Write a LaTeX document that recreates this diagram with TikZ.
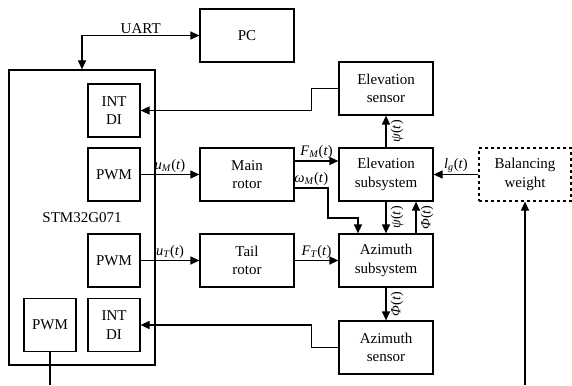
\documentclass[tikz,border=0pt]{standalone}
\usepackage{fontspec}
\setmainfont{Liberation Serif}
\usetikzlibrary{arrows.meta}
\newcommand{\sgl}[2]{\textit{#1}\textsubscript{\textit{#2}}(\textit{t})}
\newcommand{\sgn}[1]{\textit{#1}(\textit{t})}
\begin{document}
\begin{tikzpicture}[x=1pt,y=-1pt,
  every node/.style={font=\fontsize{15}{18.5}\selectfont},
  blk/.style={draw,line width=1.2pt,inner sep=0pt,align=center,minimum width=94pt,minimum height=53pt},
  sblk/.style={draw,line width=1.2pt,inner sep=0pt,align=center,minimum width=52pt,minimum height=53pt},
  conn/.style={line width=1.2pt},
  arr/.style={line width=1.2pt,-{Triangle[length=9pt,width=8pt]}},
  lbl/.style={inner sep=1.5pt,font=\fontsize{14.5}{16}\selectfont},
  rlbl/.style={inner sep=0pt,xshift=11pt,rotate=90,anchor=center,font=\fontsize{14}{16}\selectfont}]
\useasboundingbox (0,0) rectangle (572,385);
% main controller
\node[draw,line width=1.2pt,minimum width=146pt,minimum height=295pt,inner sep=0pt] (stm) at (82,217.5) {STM32G071};
\node[sblk] (intdi1) at (114,110.5) {INT\\DI};
\node[sblk] (pwm1) at (114,174.5) {PWM};
\node[sblk] (pwm2) at (114,260.5) {PWM};
\node[sblk] (intdi2) at (114,325) {INT\\DI};
\node[sblk] (pwm3) at (50,325) {PWM};
% blocks
\node[blk] (pc) at (247,35.5) {PC};
\node[blk] (main) at (247,174.5) {Main\\rotor};
\node[blk] (tail) at (247,260.5) {Tail\\rotor};
\node[blk] (elsens) at (386,88.5) {Elevation\\sensor};
\node[blk] (elsub) at (386,174.5) {Elevation\\subsystem};
\node[blk] (azsub) at (386,260.5) {Azimuth\\subsystem};
\node[blk] (azsens) at (386,347.5) {Azimuth\\sensor};
\node[blk,dashed,minimum width=92pt] (bal) at (525,174.5) {Balancing\\weight};
% free ends
\coordinate (pwmout) at (50,385);
\coordinate (balin) at (525,385);
% UART
\draw[conn,{Triangle[length=9pt,width=8pt]}-{Triangle[length=9pt,width=8pt]}] (stm.north) |- node[pos=0.75,above,lbl,font=\fontsize{15}{16}\selectfont] {UART} (pc.west);
% sensors to INT DI
\draw[arr] (elsens.west) -- ++(-27,0) |- (intdi1.east);
\draw[arr] (azsens.west) -- ++(-27,0) |- (intdi2.east);
% PWM to rotors
\draw[arr] (pwm1.east) -- node[above,lbl] {\sgl{u}{M}} (main.west);
\draw[arr] (pwm2.east) -- node[above,lbl] {\sgl{u}{T}} (tail.west);
% rotors to subsystems
\draw[arr] ([yshift=13.5pt]main.east) -- node[above,lbl] {\sgl{F}{M}} ([yshift=13.5pt]elsub.west);
\draw[arr] ([yshift=-13.5pt]main.east) -- node[above,lbl] {\sgl{ω}{M}} (328,188) -- (328,218) -| ([xshift=-28pt]azsub.north);
\draw[arr] (tail.east) -- node[above,lbl] {\sgl{F}{T}} (azsub.west);
% vertical signals
\draw[arr] (elsub.north) -- node[rlbl] {\sgn{ψ}} (elsens.south);
\draw[arr] (elsub.south) -- node[rlbl] {\sgn{ψ}} (azsub.north);
\draw[arr] ([xshift=30pt]azsub.north) -- node[rlbl] {\sgn{Φ}} ([xshift=30pt]elsub.south);
\draw[arr] (azsub.south) -- node[rlbl] {\sgn{Φ}} (azsens.north);
% balancing weight
\draw[arr] (bal.west) -- node[above,lbl] {\sgl{l}{g}} (elsub.east);
\draw[arr] (balin) -- (bal.south);
\draw[conn] (pwm3.south) -- (pwmout);
\end{tikzpicture}
\end{document}
